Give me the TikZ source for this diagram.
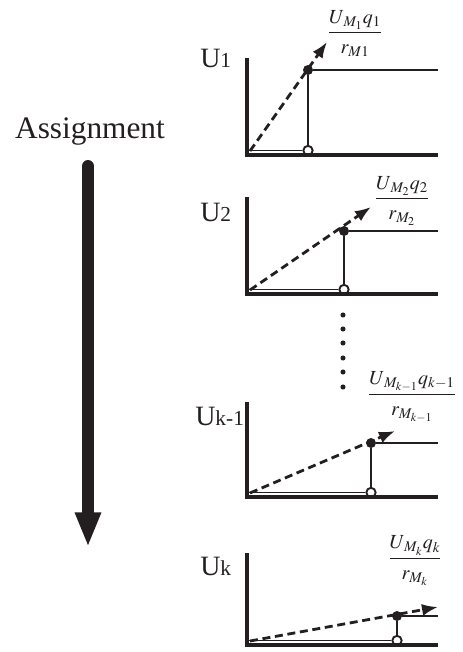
\documentclass[tikz,border=0pt]{standalone}
\usepackage{amsmath}
\usepackage{mathptmx}
\usepackage{fontspec}
\setmainfont{Liberation Serif}
\usetikzlibrary{arrows.meta}

\definecolor{ink}{HTML}{231F20}
\newcommand{\idx}[1]{{\fontsize{16}{18}\selectfont #1}}
\newcommand{\dn}{\rule{0pt}{0.95em}}

\tikzset{
  axis/.style={ink, line width=3.2pt},
  level/.style={ink, line width=2.2pt},
  riser/.style={ink, line width=1.7pt},
  floor/.style={ink, line width=1.3pt},
  ray/.style={ink, line width=2.1pt, dash pattern=on 6pt off 3.5pt,
    -{Latex[length=12pt,width=9pt]}},
  flow/.style={ink, line width=9pt, line cap=round,
    -{Triangle[length=26pt,width=18pt]}},
  hole/.style={circle, draw=ink, line width=1.4pt, fill=white,
    inner sep=0pt, minimum size=7pt},
  knot/.style={circle, fill=ink, inner sep=0pt, minimum size=7.5pt},
  ulabel/.style={anchor=base west, inner sep=0pt, text=ink,
    font=\fontsize{21}{24}\selectfont},
  ratio/.style={anchor=base, inner sep=0pt, text=ink,
    font=\fontsize{15}{17}\selectfont}
}

\begin{document}
\begin{tikzpicture}[x=0.75pt, y=-0.75pt]
  \useasboundingbox (0,0) rectangle (463,652);

  % Assignment direction
  \node[anchor=base, inner sep=0pt, text=ink, font=\fontsize{23.5}{27}\selectfont]
    (assign) at (90,139) {Assignment};
  \coordinate (go) at (88,166);
  \coordinate (stop) at (88,547);
  \draw[flow] (go) -- (stop);

  % Panel U1
  \coordinate (t1) at (247,58);
  \coordinate (o1) at (247,155);
  \coordinate (e1) at (438,155);
  \coordinate (s1) at (250,151);
  \coordinate (a1) at (327,42);
  \coordinate (r1) at (438,70);
  \node[hole] (h1) at (308,150.5) {};
  \node[knot] (d1) at (308,70) {};
  \draw[floor] (o1 |- h1) -- (h1.west);
  \draw[axis] (t1) -- (o1) -- (e1);
  \draw[riser] (h1.north) -- (d1);
  \draw[level] (d1) -- (r1);
  \draw[ray] (s1) -- (a1);
  \node[ulabel] (u1) at (200,68) {U\idx{1}};
  \node[ratio] (f1) at (355,37) {$\dfrac{U_{\,M_1}q_1}{\dn r_{M1}}$};

  % Panel U2
  \coordinate (t2) at (247,197);
  \coordinate (o2) at (247,294);
  \coordinate (e2) at (438,294);
  \coordinate (s2) at (250,290);
  \coordinate (a2) at (371,207);
  \coordinate (r2) at (438,231);
  \node[hole] (h2) at (344,289.5) {};
  \node[knot] (d2) at (344,231) {};
  \draw[floor] (o2 |- h2) -- (h2.west);
  \draw[axis] (t2) -- (o2) -- (e2);
  \draw[riser] (h2.north) -- (d2);
  \draw[level] (d2) -- (r2);
  \draw[ray] (s2) -- (a2);
  \node[ulabel] (u2) at (200,221) {U\idx{2}};
  \node[ratio] (f2) at (402,203) {$\dfrac{U_{\,M_2}q_2}{\dn r_{M_2}}$};

  % vertical dots
  \fill[ink] (343,315) circle (1.9pt) (343,329) circle (1.9pt)
    (343,343) circle (1.9pt) (343,358) circle (1.9pt)
    (343,372) circle (1.9pt) (343,387) circle (1.9pt);

  % Panel Uk-1
  \coordinate (t3) at (247,402);
  \coordinate (o3) at (247,497);
  \coordinate (e3) at (438,497);
  \coordinate (s3) at (250,493);
  \coordinate (a3) at (395,431);
  \coordinate (r3) at (438,443);
  \node[hole] (h3) at (371,492.5) {};
  \node[knot] (d3) at (371,443) {};
  \draw[floor] (o3 |- h3) -- (h3.west);
  \draw[axis] (t3) -- (o3) -- (e3);
  \draw[riser] (h3.north) -- (d3);
  \draw[level] (d3) -- (r3);
  \draw[ray] (s3) -- (a3);
  \node[ulabel] (u3) at (195,425) {U\idx{k-1}};
  \node[ratio] (f3) at (412,399) {$\dfrac{U_{\,M_{k-1}}q_{k-1}}{\dn r_{M_{k-1}}}$};

  % Panel Uk
  \coordinate (t4) at (247,553);
  \coordinate (o4) at (247,645);
  \coordinate (e4) at (438,645);
  \coordinate (s4) at (250,641);
  \coordinate (a4) at (438,607);
  \coordinate (r4) at (438,616);
  \node[hole] (h4) at (397,640.5) {};
  \node[knot] (d4) at (397,616) {};
  \draw[floor] (o4 |- h4) -- (h4.west);
  \draw[axis] (t4) -- (o4) -- (e4);
  \draw[riser] (h4.north) -- (d4);
  \draw[level] (d4) -- (r4);
  \draw[ray] (s4) -- (a4);
  \node[ulabel] (u4) at (200,575) {U\idx{k}};
  \node[ratio] (f4) at (415,563) {$\dfrac{U_{\,M_k}q_k}{\dn r_{M_k}}$};
\end{tikzpicture}
\end{document}
